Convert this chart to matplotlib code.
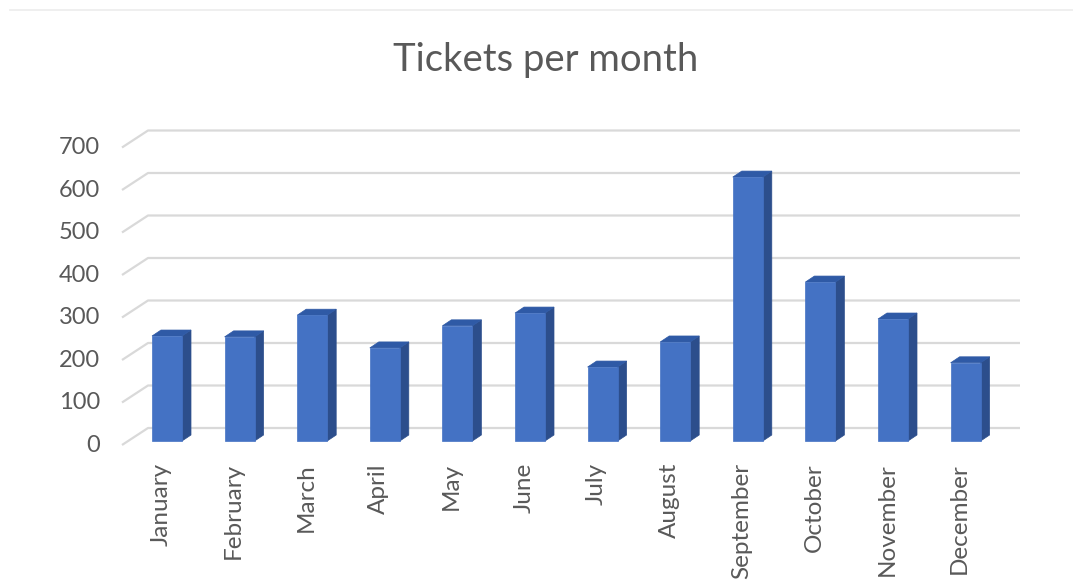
import matplotlib
matplotlib.use("Agg")
import matplotlib.pyplot as plt
from matplotlib.patches import Polygon, Rectangle
from matplotlib.lines import Line2D

# Ticket counts per month
months = ["January", "February", "March", "April", "May", "June",
          "July", "August", "September", "October", "November", "December"]
tickets = [247, 245, 296, 219, 271, 301, 174, 233, 621, 374, 287, 184]
y_ticks = [0, 100, 200, 300, 400, 500, 600, 700]
title = "Tickets per month"

W, H, DPI = 1073, 583, 100
fig = plt.figure(figsize=(W / DPI, H / DPI), dpi=DPI)
fig.patch.set_facecolor("white")
ax = fig.add_axes([0, 0, 1, 1])
ax.axis("off")

# pixel geometry of the pseudo-3D frame
cat_px = 72.6          # px per category
val_px = 0.425         # px per ticket
x0_px, base_px = 167.0, 441.0
ax.set_xlim(-x0_px / cat_px, (W - x0_px) / cat_px)
ax.set_ylim(-(H - base_px) / val_px, base_px / val_px)

# depth offsets (data units)
wall_dx, wall_dy = (148 - 167) / cat_px, (441 - 428) / val_px
front_dx, front_dy = (122 - 167) / cat_px, -(445 - 441) / val_px
grid_right = (1020 - 167) / cat_px
bar_w = 30 / cat_px
bar_dx, bar_dy = 9 / cat_px, 6 / val_px

grid_col = "#d9d9d9"
text_col = "#595959"

# back-wall gridlines with the slanted side-wall edge
for v in y_ticks:
    ax.add_line(Line2D([front_dx, wall_dx, grid_right],
                       [v + front_dy, v + wall_dy, v + wall_dy],
                       color=grid_col, lw=1.6, solid_capstyle="butt", zorder=1))
    ax.text(front_dx - 22 / cat_px, v + front_dy, str(v), ha="right",
            va="center", fontsize=17, color=text_col, family="Lato")

front_col = "#4472c4"
side_col = "#2c4e8c"
top_col = "#2f5aa6"
for i, v in enumerate(tickets):
    l, r = i - bar_w / 2, i + bar_w / 2
    ax.add_patch(Polygon([(r, 0), (r + bar_dx, bar_dy), (r + bar_dx, v + bar_dy), (r, v)],
                         closed=True, facecolor=side_col, edgecolor=side_col, lw=0.5, zorder=3))
    ax.add_patch(Polygon([(l, v), (l + bar_dx, v + bar_dy), (r + bar_dx, v + bar_dy), (r, v)],
                         closed=True, facecolor=top_col, edgecolor=top_col, lw=0.5, zorder=3))
    ax.add_patch(Rectangle((l, 0), bar_w, v, facecolor=front_col,
                           edgecolor=front_col, lw=0.5, zorder=4))
    ax.text(i - 6 / cat_px, -(463 - base_px) / val_px, months[i], rotation=90,
            ha="center", va="top", fontsize=17.5, color=text_col, family="Lato")

fig.text(546 / W, 1 - 60 / H, title, ha="center", va="center",
         fontsize=27.5, color=text_col, family="Lato")
fig.add_artist(Line2D([10 / W, 1], [1 - 10 / H, 1 - 10 / H], color="#ececec", lw=1.2))

fig.savefig("out.png", dpi=DPI)
